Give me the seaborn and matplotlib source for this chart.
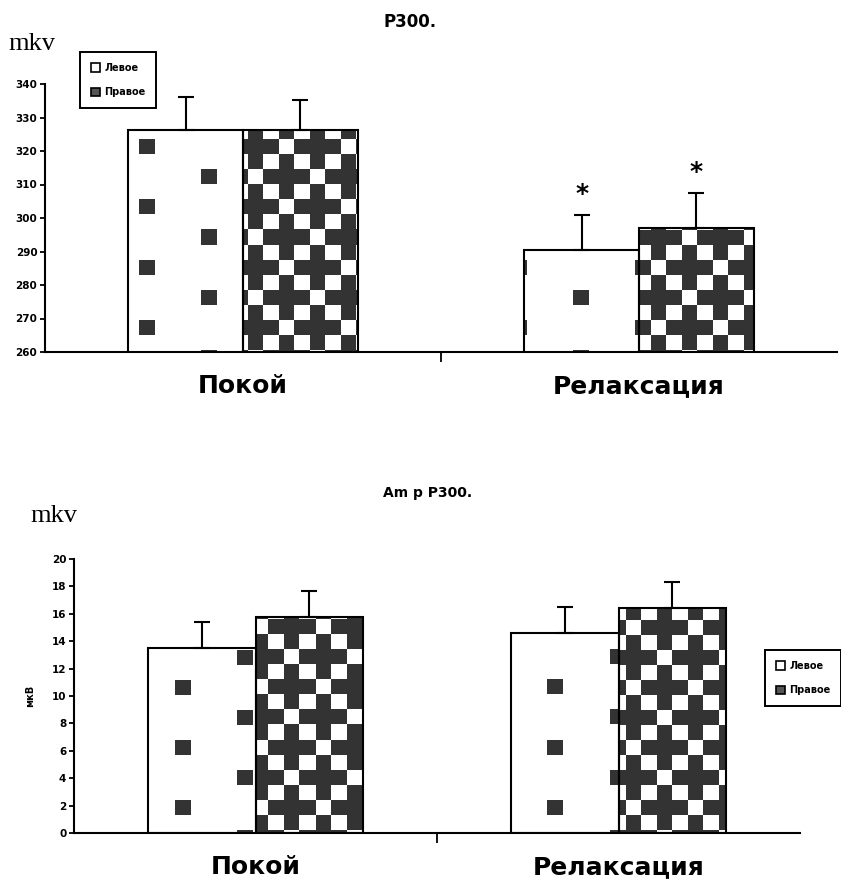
"""
plot.py: two grouped bar charts (P300 latency / amplitude) with Excel-like pattern fills.
Saves out.png
"""

import numpy as np
import pandas as pd
import matplotlib
matplotlib.use("Agg")
import matplotlib.pyplot as plt
import seaborn as sns
from matplotlib.patches import Patch

CATEGORIES = ["Покой", "Релаксация"]
SIDES = ["Левое", "Правое"]

# P300 latency
LAT_LEFT = [326.3, 290.4]
LAT_RIGHT = [326.3, 296.9]
LAT_LEFT_SD = [9.9, 10.4]
LAT_RIGHT_SD = [9.0, 10.6]
LAT_TICKS = [260, 270, 280, 290, 300, 310, 320, 330, 340]
LAT_STARS = ["", "*"]   # significance mark per category

# P300 amplitude
AMP_LEFT = [13.5, 14.6]
AMP_RIGHT = [15.8, 16.4]
AMP_LEFT_SD = [1.9, 1.9]
AMP_RIGHT_SD = [1.9, 1.9]
AMP_TICKS = [0, 2, 4, 6, 8, 10, 12, 14, 16, 18, 20]

W, H = 841, 894
DARK = "#333333"
CELL_X, CELL_Y = 15.5, 15.0


def make_df(left, right):
    rows = []
    for cat, l, r in zip(CATEGORIES, left, right):
        rows.append({"cat": cat, "side": SIDES[0], "val": l})
        rows.append({"cat": cat, "side": SIDES[1], "val": r})
    return pd.DataFrame(rows)


def pattern_mask(kind, xs, ys):
    # xs, ys: screen pixel coords (y downwards); returns True where dark
    cx = np.floor(xs / CELL_X).astype(int)[None, :]
    cy = np.floor(ys / CELL_Y).astype(int)[:, None]
    if kind == "sparse":
        r, c = cy % 4, cx % 8
        return ((r == 1) & (c == 1)) | ((r == 3) & (c == 5))
    r, c = cy % 4, cx % 4
    white = ((r % 2 == 0) & (c % 2 == 1)) | ((r == 1) & (c == 2)) | ((r == 3) & (c == 0))
    return ~white


def fill_patterns(ax, shift):
    ymin = ax.get_ylim()[0]
    for cont, kind in zip(ax.containers, ["sparse", "check"]):
        for p in cont:
            x0, x1 = p.get_x(), p.get_x() + p.get_width()
            y0, y1 = max(p.get_y(), ymin), p.get_y() + p.get_height()
            (px0, py0), (px1, py1) = ax.transData.transform([(x0, y0), (x1, y1)])
            sx = np.arange(int(round(px0)), int(round(px1))) + 0.5 - shift[0]
            sy = H - (np.arange(int(round(py1)), int(round(py0)), -1) - 0.5) - shift[1]
            dark = pattern_mask(kind, sx, sy)
            img = np.ones(dark.shape + (3,))
            img[dark] = matplotlib.colors.to_rgb(DARK)
            im = ax.imshow(img, extent=[x0, x1, y0, y1], origin="upper",
                           aspect="auto", interpolation="nearest",
                           zorder=p.get_zorder() - 0.05)
            im.set_clip_path(p)
            p.set_facecolor("none")


def draw_panel(fig, rect, left, right, left_sd, right_sd, ticks, width, shift):
    ax = fig.add_axes(rect)
    df = make_df(left, right)
    sns.barplot(data=df, x="cat", y="val", hue="side", order=CATEGORIES,
                hue_order=SIDES, errorbar=None, width=width, ax=ax,
                palette=["white", "white"], edgecolor="black", linewidth=1.5,
                legend=False)
    ax.set_xlim(-0.5, 1.5)
    ax.set_ylim(ticks[0], ticks[-1])
    ax.set_yticks(ticks)
    ax.set_yticklabels([str(t) for t in ticks], fontsize=7.5, fontweight="bold")
    ax.set_xlabel("")
    ax.set_ylabel("")
    ax.set_xticks([0, 1])
    ax.set_xticklabels(CATEGORIES, fontsize=18, fontweight="bold")
    ax.tick_params(axis="x", which="major", bottom=True, length=0, pad=16)
    ax.set_xticks([0.5], minor=True)
    ax.tick_params(axis="x", which="minor", bottom=True, length=7, width=1.3,
                   direction="out", color="black")
    ax.tick_params(axis="y", left=True, length=3.5, width=1.3, direction="out",
                   pad=2, color="black")
    ax.spines[["top", "right"]].set_visible(False)
    ax.spines[["left", "bottom"]].set_linewidth(1.5)
    ax.spines[["left", "bottom"]].set_color("black")
    ax.set_facecolor("white")

    centers = []
    for cont, sd in zip(ax.containers, [left_sd, right_sd]):
        xs = [p.get_x() + p.get_width() / 2 for p in cont]
        ys = [p.get_y() + p.get_height() for p in cont]
        ax.errorbar(xs, ys, yerr=[np.zeros(len(sd)), sd], fmt="none",
                    ecolor="black", elinewidth=1.5, capsize=5.5, capthick=1.5,
                    zorder=5)
        centers.append((xs, ys, sd))
    fill_patterns(ax, shift)
    return ax, centers


sns.set_theme(style="white")
plt.rcParams["font.family"] = ["DejaVu Sans"]
plt.rcParams["text.color"] = "black"
plt.rcParams["axes.labelcolor"] = "black"
plt.rcParams["xtick.color"] = "black"
plt.rcParams["ytick.color"] = "black"

fig = plt.figure(figsize=(W / 100, H / 100), dpi=100)
fig.patch.set_facecolor("white")

# top panel: latency
ax1, c1 = draw_panel(fig, [45 / W, 1 - 352 / H, 792 / W, 268 / H],
                     LAT_LEFT, LAT_RIGHT, LAT_LEFT_SD, LAT_RIGHT_SD, LAT_TICKS,
                     0.58, (0, 5))
for xs, ys, sd in c1:
    for i, mark in enumerate(LAT_STARS):
        if mark:
            ax1.annotate(mark, (xs[i], ys[i] + sd[i]), xytext=(0, 15),
                         textcoords="offset points", ha="center", va="center",
                         fontsize=18, fontweight="bold")

# bottom panel: amplitude
ax2, _ = draw_panel(fig, [74 / W, 1 - 833 / H, 726 / W, 274 / H],
                    AMP_LEFT, AMP_RIGHT, AMP_LEFT_SD, AMP_RIGHT_SD, AMP_TICKS,
                    0.59, (36, 5))
ax2.set_ylabel("мкВ", fontsize=7, fontweight="bold", labelpad=12)

# titles and unit labels
fig.text(410 / W, 1 - 22 / H, "P300.", ha="center", va="center",
         fontsize=12, fontweight="bold")
fig.text(428 / W, 1 - 493 / H, "Am p P300.", ha="center", va="center",
         fontsize=10, fontweight="bold")
fig.text(8 / W, 1 - 44 / H, "mkv", ha="left", va="center", fontsize=19,
         family="Liberation Serif")
fig.text(30 / W, 1 - 516 / H, "mkv", ha="left", va="center", fontsize=19,
         family="Liberation Serif")

handles = [Patch(facecolor="white", edgecolor="black", linewidth=1.2),
           Patch(facecolor="#555555", edgecolor="black", linewidth=1.2)]
for loc in [(80 / W, 1 - 52 / H), (765 / W, 1 - 650 / H)]:
    leg = fig.legend(handles, SIDES, loc="upper left", bbox_to_anchor=loc,
                     handlelength=1.0, handleheight=1.0, borderaxespad=0,
                     handletextpad=0.4, labelspacing=1.5, borderpad=1.1,
                     fancybox=False, framealpha=1, edgecolor="black",
                     prop={"weight": "bold", "size": 7})
    leg.get_frame().set_linewidth(1.4)

fig.savefig("out.png", dpi=100, facecolor="white")
